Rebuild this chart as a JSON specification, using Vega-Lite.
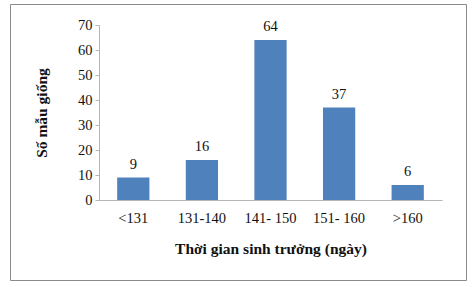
{
  "$schema": "https://vega.github.io/schema/vega-lite/v6.json",
  "autosize": {"type": "none"},
  "padding": {"left": 10, "top": 4, "right": 6, "bottom": 7},
  "width": 456,
  "height": 276,
  "background": "white",
  "config": {
    "view": {"stroke": "#8a8a8a", "strokeWidth": 1},
    "font": "Liberation Serif",
    "axis": {
      "labelFont": "Liberation Serif",
      "titleFont": "Liberation Serif",
      "labelColor": "#111",
      "titleColor": "#111",
      "domainColor": "#b5b5b5",
      "tickColor": "#b5b5b5",
      "grid": false
    }
  },
  "data": {
    "values": [
      {"group": "<131", "count": 9},
      {"group": "131-140", "count": 16},
      {"group": "141- 150", "count": 64},
      {"group": "151- 160", "count": 37},
      {"group": ">160", "count": 6}
    ]
  },
  "encoding": {
    "x": {
      "field": "group",
      "type": "nominal",
      "sort": null,
      "scale": {"range": [89, 432], "paddingInner": 0.53, "paddingOuter": 0.265},
      "axis": {
        "title": "Thời gian sinh trưởng (ngày)",
        "titleFontSize": 15.5,
        "titleFontWeight": "bold",
        "titlePadding": 17,
        "labelFontSize": 14.5,
        "labelAngle": 0,
        "labelPadding": 11,
        "ticks": false,
        "offset": -80
      }
    },
    "y": {
      "field": "count",
      "type": "quantitative",
      "scale": {"domain": [0, 70], "range": [196, 21], "nice": false},
      "axis": {
        "title": "Số mẫu giống",
        "titleFontSize": 15.5,
        "titleFontWeight": "bold",
        "titlePadding": 28,
        "labelFontSize": 14.5,
        "labelPadding": 3,
        "tickSize": 4,
        "values": [0, 10, 20, 30, 40, 50, 60, 70],
        "offset": -89
      }
    }
  },
  "layer": [
    {"mark": {"type": "bar", "color": "#4F81BD"}},
    {
      "mark": {"type": "text", "baseline": "bottom", "dy": -6, "fontSize": 14.5, "font": "Liberation Serif", "color": "#111"},
      "encoding": {"text": {"field": "count", "type": "quantitative"}}
    }
  ]
}
